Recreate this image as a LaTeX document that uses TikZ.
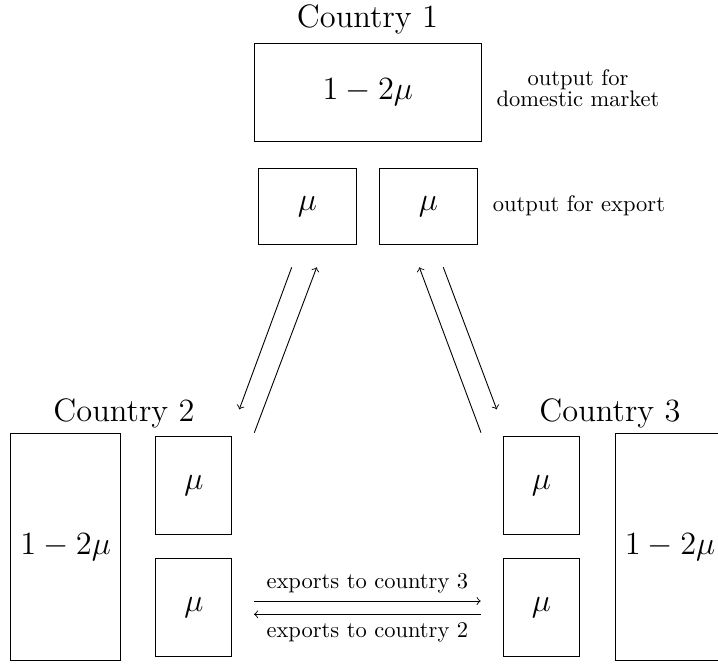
\documentclass[tikz,border=0pt]{standalone}
\begin{document}
\begin{tikzpicture}[x=0.4444pt,y=-0.4444pt,
  box/.style={draw,inner sep=0pt,font=\Large},
  bigh/.style={box,minimum width=100.9pt,minimum height=43.7pt},
  smallh/.style={box,minimum width=43.7pt,minimum height=33.8pt},
  bigv/.style={box,minimum width=48.9pt,minimum height=100.7pt},
  smallv/.style={box,minimum width=33.8pt,minimum height=43.6pt},
  title/.style={font=\Large,anchor=base},
  note/.style={align=center,font=\fontsize{10}{9.7}\selectfont}]
\useasboundingbox (0,0) rectangle (718,664);
% Country 1
\node[title] (t1) at (367.5,27) {Country 1};
\node[bigh] (c1big) at (367.8,92.5) {$1-2\mu$};
\node[smallh] (c1a) at (307.5,206.3) {$\mu$};
\node[smallh] (c1b) at (428.5,206.3) {$\mu$};
\node[note] (n1) at (578,88.2) {output for\\domestic market};
\node[anchor=base] (n2) at (579,211.7) {output for export};
% Country 2
\node[title] (t2) at (124,421.7) {Country 2};
\node[bigv] (c2big) at (65.7,546.7) {$1-2\mu$};
\node[smallv] (c2a) at (193.8,485.8) {$\mu$};
\node[smallv] (c2b) at (193.8,607.2) {$\mu$};
% Country 3
\node[title] (t3) at (610,421.7) {Country 3};
\node[bigv] (c3big) at (670,546.7) {$1-2\mu$};
\node[smallv] (c3a) at (541.3,485.8) {$\mu$};
\node[smallv] (c3b) at (541.3,607.2) {$\mu$};
% arrow end points
\coordinate (a1s) at (291.7,267.3);
\coordinate (a1e) at (239.3,409.3);
\coordinate (a2s) at (254.3,432.7);
\coordinate (a2e) at (316.7,267.3);
\coordinate (a3s) at (481,432.7);
\coordinate (a3e) at (419.3,267.3);
\coordinate (a4s) at (443.3,267.3);
\coordinate (a4e) at (496.7,409.3);
\coordinate (h1s) at (254,601);
\coordinate (h1e) at (480.7,601);
\coordinate (h2s) at (480.7,614.3);
\coordinate (h2e) at (254,614.3);
\draw[->] (a1s) -- (a1e);
\draw[->] (a2s) -- (a2e);
\draw[->] (a3s) -- (a3e);
\draw[->] (a4s) -- (a4e);
\draw[->] (h1s) -- node[above] {exports to country 3} (h1e);
\draw[->] (h2s) -- node[below] {exports to country 2} (h2e);
\end{tikzpicture}
\end{document}
